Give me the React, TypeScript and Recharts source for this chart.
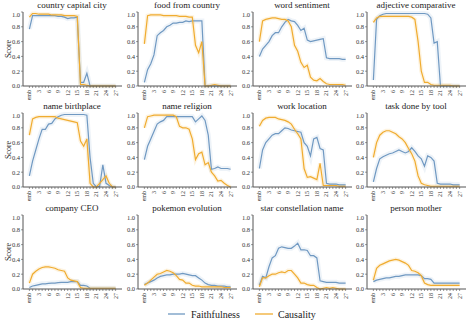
import React from "react";
import { Line, LineChart, XAxis, YAxis } from "recharts";

// layer labels: embedding + 27 layers
const layers = ["emb", "1", "2", "3", "4", "5", "6", "7", "8", "9", "10", "11", "12", "13", "14", "15", "16", "17", "18", "19", "20", "21", "22", "23", "24", "25", "26", "27"];
const xTickLabels = ["emb", "3", "6", "9", "12", "15", "18", "21", "24", "27"];
const yTicks = [0, 0.2, 0.4, 0.6, 0.8, 1.0];

const titles = [
  "country capital city", "food from country", "word sentiment", "adjective comparative",
  "name birthplace", "name religion", "work location", "task done by tool",
  "company CEO", "pokemon evolution", "star constellation name", "person mother",
];

const capitalF = [0.77, 0.95, 0.95, 0.95, 0.95, 0.95, 0.95, 0.95, 0.95, 0.94, 0.94, 0.93, 0.91, 0.92, 0.92, 0.93, 0.05, 0.05, 0.17, 0, 0, 0, 0, 0, 0, 0, 0, 0];
const capitalC = [0.93, 0.98, 0.98, 0.97, 0.97, 0.97, 0.97, 0.96, 0.96, 0.96, 0.96, 0.95, 0.95, 0.95, 0.95, 0.94, 0.02, 0.02, 0.01, 0, 0, 0, 0, 0, 0, 0, 0, 0];
const foodF = [0.05, 0.22, 0.3, 0.42, 0.68, 0.72, 0.75, 0.8, 0.82, 0.85, 0.85, 0.86, 0.86, 0.88, 0.87, 0.88, 0.88, 0.88, 0.88, 0, 0, 0, 0, 0, 0, 0, 0, 0];
const foodC = [0.57, 0.95, 0.96, 0.96, 0.96, 0.96, 0.95, 0.95, 0.95, 0.95, 0.95, 0.94, 0.94, 0.94, 0.93, 0.93, 0.55, 0.45, 0.6, 0, 0, 0.01, 0.02, 0.01, 0, 0, 0, 0];
const sentimentF = [0.4, 0.5, 0.55, 0.6, 0.68, 0.72, 0.72, 0.8, 0.86, 0.9, 0.88, 0.87, 0.82, 0.75, 0.78, 0.62, 0.6, 0.61, 0.62, 0.63, 0.64, 0.38, 0.37, 0.37, 0.37, 0.37, 0.36, 0.36];
const sentimentC = [0.6, 0.88, 0.9, 0.91, 0.92, 0.92, 0.91, 0.9, 0.9, 0.88, 0.8, 0.55, 0.47, 0.32, 0.25, 0.28, 0.12, 0.08, 0.07, 0.1, 0.06, 0.03, 0.02, 0.02, 0.02, 0.02, 0.02, 0.01];
const comparativeF = [0.08, 0.9, 0.95, 0.97, 0.98, 0.98, 0.98, 0.98, 0.98, 0.98, 0.98, 0.98, 0.98, 0.98, 0.98, 0.98, 0.98, 0.97, 0.92, 0.58, 0.6, 0, 0, 0, 0, 0, 0, 0];
const comparativeC = [0.86, 0.92, 0.94, 0.94, 0.94, 0.94, 0.94, 0.94, 0.94, 0.94, 0.94, 0.94, 0.93, 0.9, 0.6, 0.2, 0.05, 0.05, 0.02, 0.01, 0.01, 0.01, 0.01, 0.01, 0.01, 0, 0, 0];
const birthplaceF = [0.15, 0.35, 0.5, 0.65, 0.78, 0.78, 0.85, 0.86, 0.92, 0.95, 0.97, 0.98, 0.98, 0.98, 0.98, 0.98, 0.98, 0.98, 0.97, 0.4, 0.05, 0, 0.01, 0.3, 0.05, 0.02, 0, 0];
const birthplaceC = [0.7, 0.92, 0.94, 0.95, 0.95, 0.95, 0.95, 0.95, 0.95, 0.93, 0.92, 0.91, 0.9, 0.89, 0.88, 0.87, 0.62, 0.55, 0.65, 0.05, 0, 0, 0.05, 0.1, 0.15, 0.05, 0, 0];
const religionF = [0.37, 0.55, 0.65, 0.75, 0.85, 0.88, 0.9, 0.95, 0.95, 0.95, 0.95, 0.95, 0.95, 0.95, 0.95, 0.95, 0.88, 0.92, 0.96, 0.9, 0.7, 0.24, 0.25, 0.27, 0.25, 0.25, 0.25, 0.24];
const religionC = [0.8, 0.95, 0.96, 0.97, 0.97, 0.97, 0.97, 0.97, 0.97, 0.97, 0.95, 0.82, 0.8, 0.8, 0.78, 0.65, 0.37, 0.45, 0.47, 0.3, 0.33, 0.2, 0.15, 0.08, 0.09, 0.05, 0.02, 0];
const workF = [0.25, 0.5, 0.6, 0.65, 0.7, 0.72, 0.72, 0.76, 0.8, 0.79, 0.77, 0.76, 0.75, 0.74, 0.6, 0.55, 0.42, 0.65, 0.67, 0.52, 0.5, 0.05, 0.04, 0.04, 0.04, 0.03, 0.03, 0.03];
const workC = [0.82, 0.9, 0.93, 0.94, 0.94, 0.94, 0.92, 0.91, 0.9, 0.88, 0.85, 0.78, 0.72, 0.65, 0.25, 0.13, 0.14, 0.12, 0.1, 0.32, 0.02, 0.02, 0.02, 0.02, 0.02, 0.01, 0.01, 0.01];
const toolF = [0.07, 0.25, 0.38, 0.41, 0.43, 0.45, 0.46, 0.48, 0.5, 0.48, 0.46, 0.48, 0.53, 0.48, 0.42, 0.38, 0.28, 0.42, 0.4, 0.35, 0.05, 0.04, 0.04, 0.04, 0.04, 0.03, 0.03, 0.03];
const toolC = [0.4, 0.6, 0.7, 0.74, 0.76, 0.76, 0.74, 0.72, 0.68, 0.65, 0.6, 0.52, 0.45, 0.35, 0.15, 0.05, 0.03, 0.02, 0.01, 0.01, 0.01, 0.01, 0.01, 0.01, 0.01, 0.01, 0.01, 0.01];
const ceoF = [0.02, 0.04, 0.05, 0.06, 0.07, 0.07, 0.075, 0.08, 0.08, 0.085, 0.09, 0.09, 0.09, 0.1, 0.1, 0.1, 0.05, 0.05, 0.04, 0.01, 0.01, 0.01, 0.01, 0.01, 0.01, 0.01, 0.01, 0.01];
const ceoC = [0.08, 0.2, 0.24, 0.27, 0.29, 0.3, 0.3, 0.29, 0.28, 0.26, 0.25, 0.24, 0.15, 0.12, 0.11, 0.1, 0.02, 0.01, 0.01, 0.01, 0.01, 0.01, 0.01, 0.01, 0.01, 0.01, 0.01, 0.01];
const pokemonF = [0.06, 0.08, 0.1, 0.12, 0.15, 0.17, 0.18, 0.19, 0.19, 0.2, 0.2, 0.2, 0.21, 0.2, 0.19, 0.18, 0.18, 0.15, 0.12, 0.08, 0.06, 0.05, 0.05, 0.04, 0.04, 0.04, 0.03, 0.03];
const pokemonC = [0.05, 0.08, 0.12, 0.16, 0.2, 0.21, 0.23, 0.25, 0.24, 0.22, 0.18, 0.13, 0.12, 0.08, 0.08, 0.05, 0.04, 0.04, 0.03, 0.03, 0.03, 0.03, 0.03, 0.03, 0.03, 0.02, 0.02, 0.02];
const starF = [0.05, 0.17, 0.15, 0.3, 0.42, 0.45, 0.55, 0.57, 0.56, 0.55, 0.55, 0.58, 0.62, 0.53, 0.53, 0.52, 0.45, 0.45, 0.42, 0.11, 0.1, 0.09, 0.09, 0.09, 0.09, 0.08, 0.08, 0.08];
const starC = [0.03, 0.15, 0.15, 0.18, 0.2, 0.2, 0.22, 0.23, 0.22, 0.25, 0.25, 0.2, 0.15, 0.08, 0.08, 0.06, 0.05, 0.05, 0.02, 0, 0.01, 0.02, 0.01, 0.02, 0.01, 0, 0, 0];
const motherF = [0.1, 0.12, 0.13, 0.14, 0.15, 0.15, 0.16, 0.17, 0.17, 0.18, 0.19, 0.19, 0.19, 0.19, 0.19, 0.18, 0.14, 0.14, 0.13, 0.08, 0.08, 0.08, 0.08, 0.08, 0.08, 0.08, 0.08, 0.08];
const motherC = [0.12, 0.28, 0.32, 0.34, 0.36, 0.38, 0.39, 0.4, 0.39, 0.37, 0.35, 0.32, 0.25, 0.24, 0.22, 0.18, 0.08, 0.06, 0.05, 0.05, 0.05, 0.05, 0.05, 0.05, 0.05, 0.05, 0.05, 0.05];

const faithfulness = [capitalF, foodF, sentimentF, comparativeF, birthplaceF, religionF, workF, toolF, ceoF, pokemonF, starF, motherF];
const causality = [capitalC, foodC, sentimentC, comparativeC, birthplaceC, religionC, workC, toolC, ceoC, pokemonC, starC, motherC];

const BLUE = "#7099c2";
const ORANGE = "#f0ac30";
const SPINE = "#555";
const FONT = "'Liberation Serif', 'DejaVu Serif', serif";

const colLeft = [23, 138, 253, 367];
const rowTop = [12, 113, 215];
const PW = 98;
const PH = 74;
const YW = 22;
const XH = 20;

function LayerTick(props: any) {
  const { x, y, payload } = props;
  const label = layers[payload.value];
  if (!xTickLabels.includes(label)) return null;
  return (
    <text
      x={x}
      y={y}
      dy={2}
      transform={`rotate(-90 ${x} ${y})`}
      textAnchor="end"
      fontSize={6}
      fontFamily={FONT}
      fill="#333"
    >
      {label}
    </text>
  );
}

function Panel({ idx }: { idx: number }) {
  const col = idx % 4;
  const row = Math.floor(idx / 4);
  const data = layers.map((_, i) => ({ x: i, f: faithfulness[idx][i], c: causality[idx][i] }));
  const left = colLeft[col];
  const top = rowTop[row];
  return (
    <>
      <div
        style={{
          position: "absolute",
          left,
          top: top - 13,
          width: PW,
          textAlign: "center",
          fontFamily: FONT,
          fontSize: 9,
          lineHeight: "12px",
          color: "#222",
          whiteSpace: "nowrap",
        }}
      >
        {titles[idx]}
      </div>
      <div style={{ position: "absolute", left: left - YW, top: top - 1 }}>
        <LineChart width={YW + PW + 1} height={PH + XH + 1} data={data} margin={{ top: 1, right: 0, bottom: 0, left: 0 }}>
          <XAxis
            dataKey="x"
            type="number"
            domain={[-2, 29]}
            ticks={layers.map((_, i) => i)}
            interval={0}
            height={XH}
            tick={<LayerTick />}
            tickSize={2}
            tickLine={{ stroke: SPINE, strokeWidth: 0.6 }}
            axisLine={{ stroke: SPINE, strokeWidth: 1 }}
          />
          <XAxis xAxisId="top" orientation="top" dataKey="x" type="number" domain={[-2, 29]} height={0} tick={false} tickLine={false} axisLine={{ stroke: SPINE, strokeWidth: 1 }} />
          <YAxis
            type="number"
            domain={[0, 1]}
            ticks={yTicks}
            width={YW}
            tickSize={2}
            tickMargin={1}
            tickFormatter={(v: number) => v.toFixed(1)}
            tick={{ fontSize: 6.5, fontFamily: FONT, fill: "#333" }}
            tickLine={{ stroke: SPINE, strokeWidth: 0.6 }}
            axisLine={{ stroke: SPINE, strokeWidth: 1 }}
          />
          <YAxis yAxisId="right" orientation="right" domain={[0, 1]} width={0} tick={false} tickLine={false} axisLine={{ stroke: SPINE, strokeWidth: 1 }} />
          <Line dataKey="f" stroke={BLUE} strokeOpacity={0.12} strokeWidth={5} dot={false} isAnimationActive={false} />
          <Line dataKey="c" stroke={ORANGE} strokeOpacity={0.15} strokeWidth={4} dot={false} isAnimationActive={false} />
          <Line dataKey="f" stroke={BLUE} strokeWidth={1.2} dot={false} isAnimationActive={false} />
          <Line dataKey="c" stroke={ORANGE} strokeWidth={1.2} dot={false} isAnimationActive={false} />
        </LineChart>
      </div>
    </>
  );
}

export default function App() {
  return (
    <div style={{ position: "absolute", left: 0, top: 0, width: 474, height: 323, background: "#fff", overflow: "hidden" }}>
      {titles.map((_, i) => (
        <Panel key={i} idx={i} />
      ))}
      {rowTop.map((t, r) => (
        <div
          key={r}
          style={{
            position: "absolute",
            left: 9 - 20,
            top: t + PH / 2 - 6,
            width: 40,
            height: 12,
            lineHeight: "12px",
            textAlign: "center",
            transform: "rotate(-90deg)",
            fontFamily: FONT,
            fontSize: 8,
            color: "#222",
          }}
        >
          Score
        </div>
      ))}
      <svg style={{ position: "absolute", left: 0, top: 300 }} width={474} height={23}>
        <line x1={168} x2={185} y1={14} y2={14} stroke={BLUE} strokeWidth={1.3} />
        <text x={191} y={17.5} fontSize={10} fontFamily={FONT} fill="#222">Faithfulness</text>
        <line x1={255} x2={273} y1={14} y2={14} stroke={ORANGE} strokeWidth={1.3} />
        <text x={278} y={17.5} fontSize={10} fontFamily={FONT} fill="#222">Causality</text>
      </svg>
    </div>
  );
}
